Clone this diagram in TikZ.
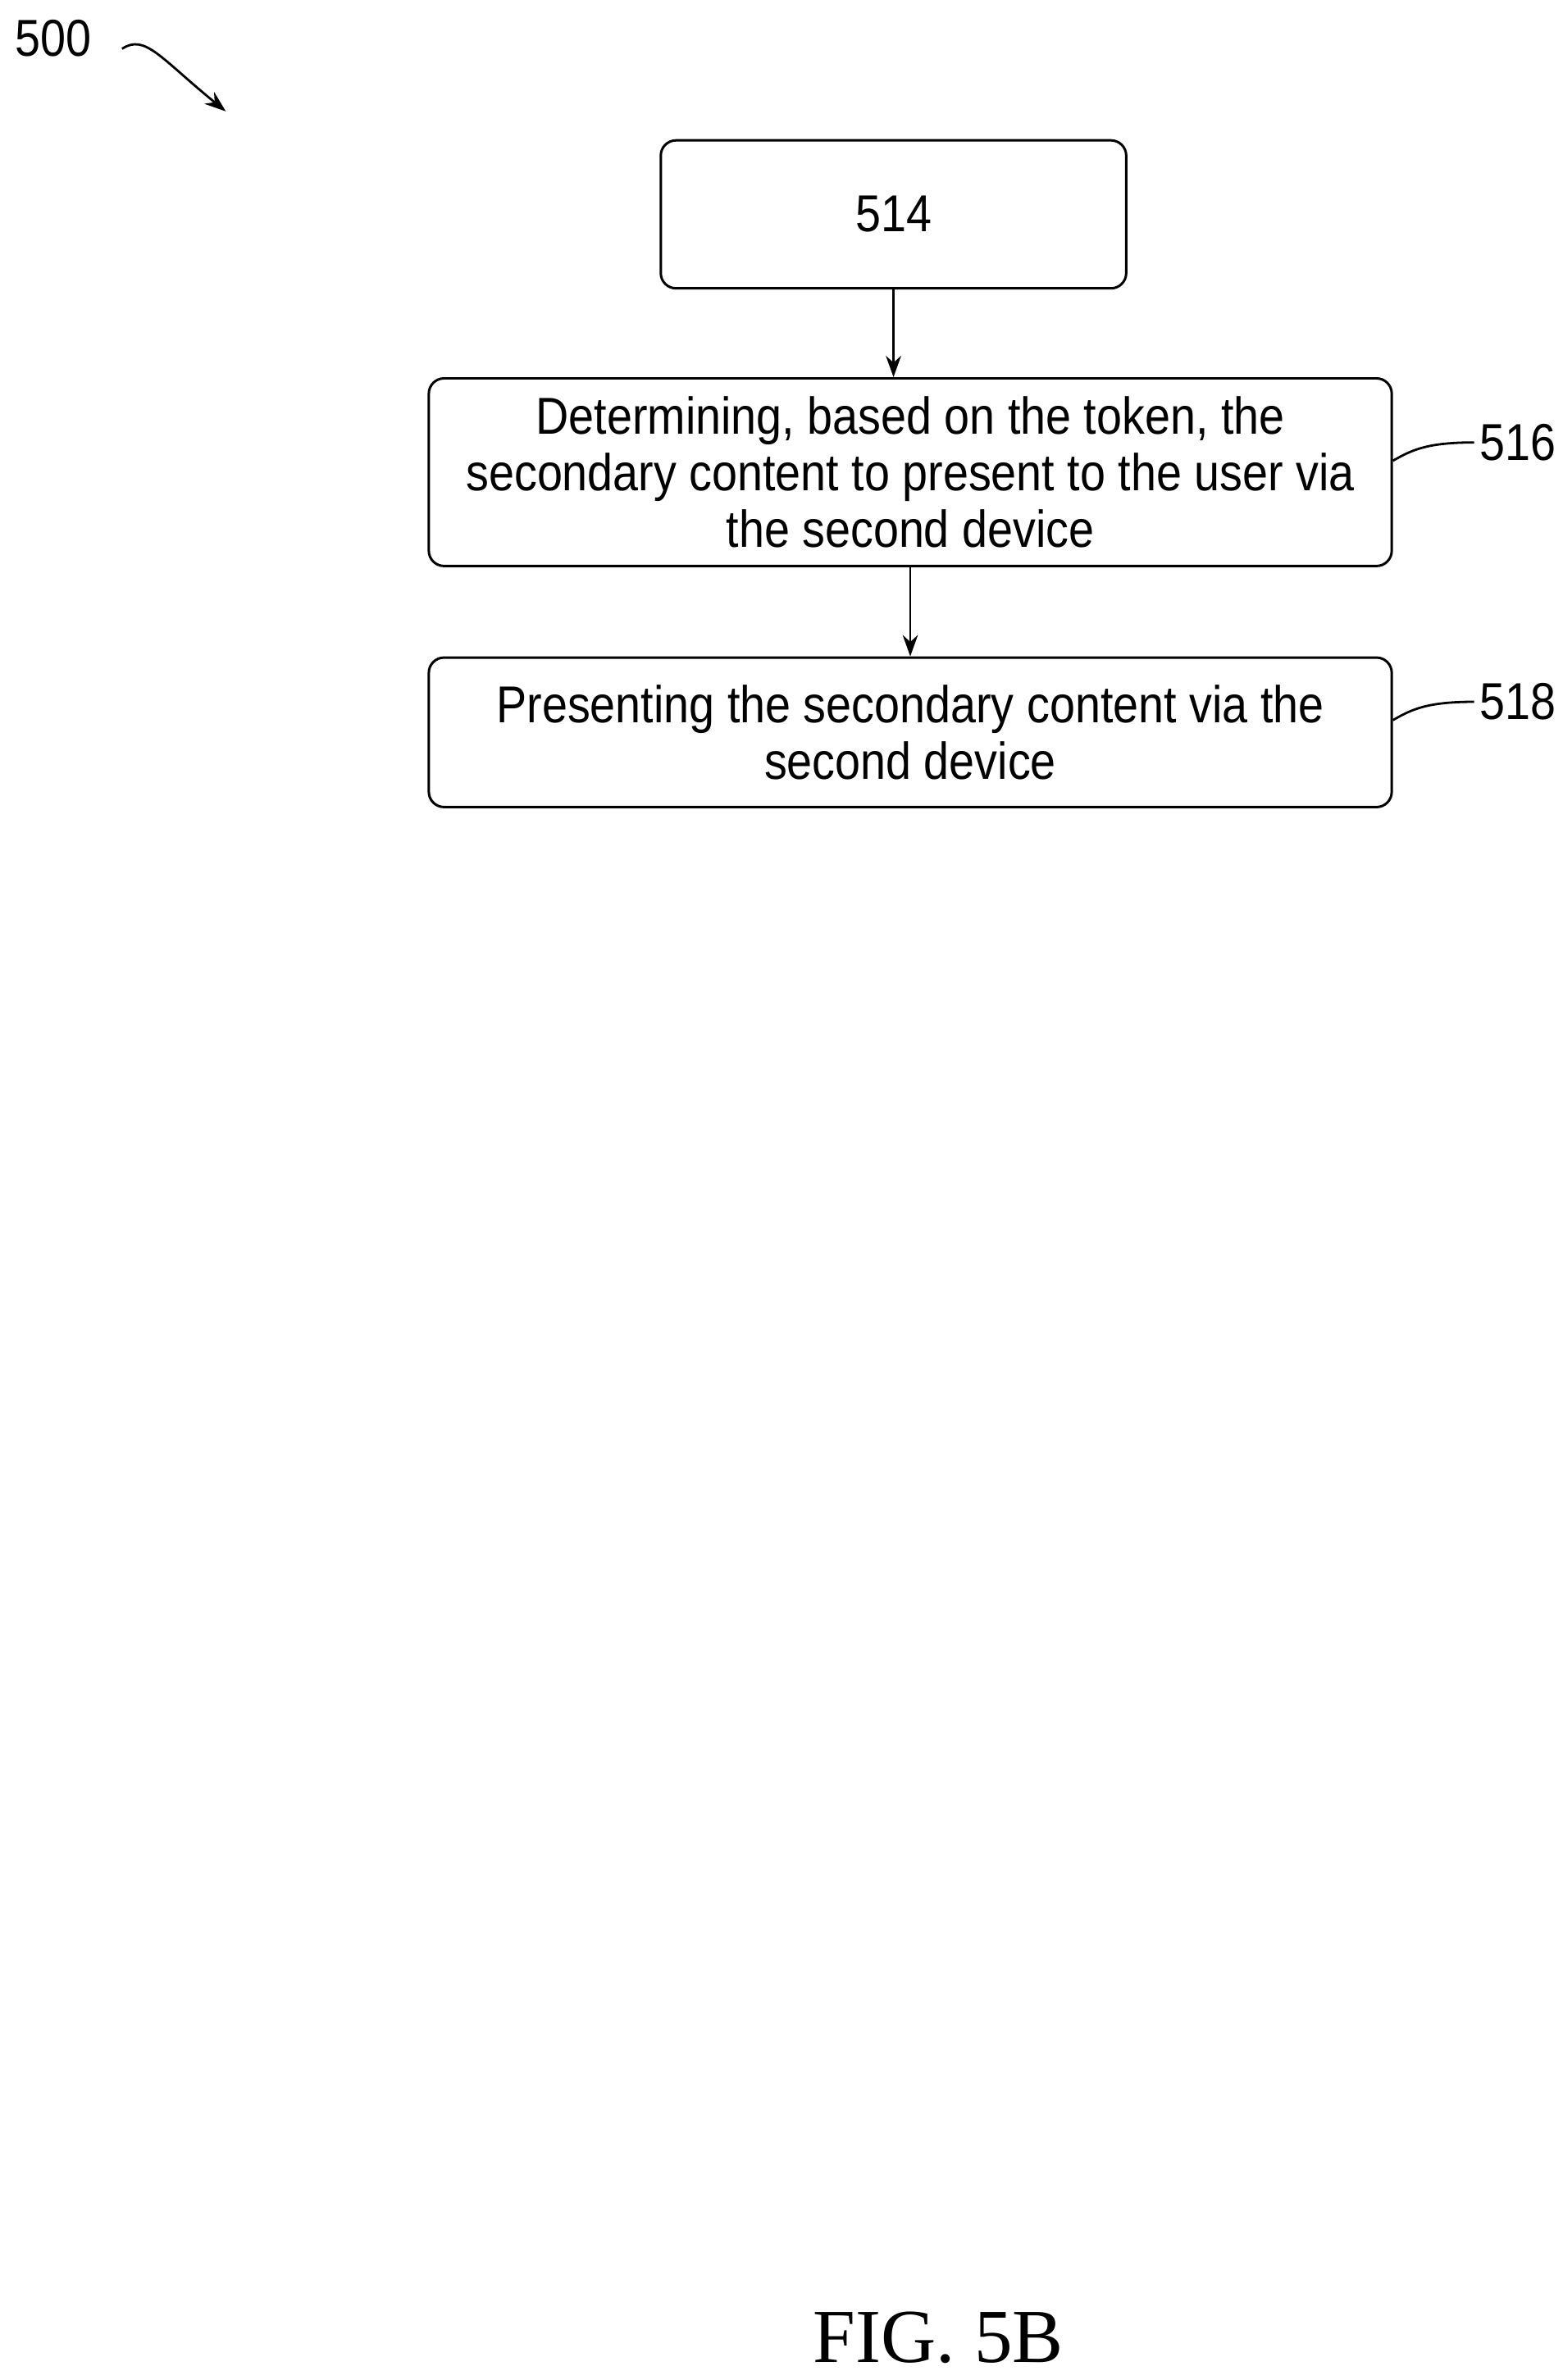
\documentclass[tikz,border=0pt]{standalone}
\usepackage{fontspec}
\setmainfont{Liberation Sans}[FakeStretch=0.88]
\newfontfamily\figfont{Liberation Serif}
\usetikzlibrary{arrows.meta}
\begin{document}
\begin{tikzpicture}[x=1pt,y=-1pt,
  box/.style={draw,rounded corners=10pt,line width=1.6pt,align=center,font=\fontsize{34}{37}\selectfont,inner sep=0pt},
  lbl/.style={font=\fontsize{34}{37}\selectfont},
  arr/.style={-{Stealth[length=14pt,width=10pt]},line width=1.5pt}]
\useasboundingbox (0,0) rectangle (1024,1560);
\node[box,minimum width=305pt,minimum height=97pt] (b514) at (585.5,140.5) {514};
\node[box,minimum width=631pt,minimum height=123pt] (b516) at (596.5,309.5) {Determining, based on the token, the\\secondary content to present to the user via\\the second device};
\node[box,minimum width=631pt,minimum height=98pt] (b518) at (596.5,480) {Presenting the secondary content via the\\second device};
\draw[arr] (b514.south) -- (b514.south |- b516.north);
\draw[arr] (b516.south) -- (b516.south |- b518.north);
\node[lbl,anchor=west] (l516) at (966,290) {516};
\node[lbl,anchor=west] (l518) at (966,460) {518};
\draw[line width=1.5pt] (b516.east |- 0,302) .. controls (925,295) and (935,290) .. (l516.west);
\draw[line width=1.5pt] (b518.east |- 0,472) .. controls (925,465) and (935,460) .. (l518.west);
\node[lbl] (n500) at (35,25) {500};
\coordinate (a1) at (148,73);
\draw[arr] (80,32) .. controls (95,22) and (105,38) .. (a1);
\node[font=\figfont\fontsize{50}{54}\selectfont] (fig) at (615,1532) {FIG. 5B};
\end{tikzpicture}
\end{document}
